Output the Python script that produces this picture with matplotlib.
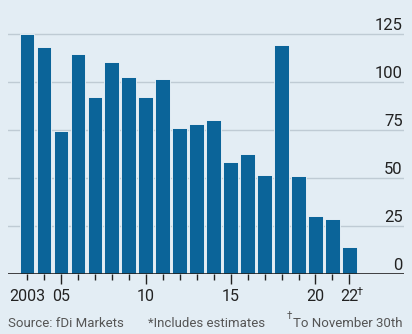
import matplotlib.pyplot as plt
import numpy as np

plt.rcParams['font.family'] = ['Roboto', 'DejaVu Sans']

years = list(range(2003, 2023))
values = [125, 118.5, 74.5, 114.5, 92, 110.5, 102.5, 92.5, 101.5, 76,
          78.3, 80.5, 58.5, 62.5, 51.5, 119.5, 51, 30, 28.6, 14.2]
y_ticks = [0, 25, 50, 75, 100, 125]
x_labels = {2003: '2003', 2005: '05', 2010: '10', 2015: '15', 2020: '20', 2022: '22'}

bg = '#e3edf4'
blue = '#0b6499'
ink = '#222222'
grey = '#555555'

fig = plt.figure(figsize=(4.12, 3.34), dpi=100, facecolor=bg)
ax = fig.add_axes([0.02, 0.1796, 0.96, 0.790], facecolor=bg)

ax.bar(years, values, width=0.86, color=blue, edgecolor='#f4f8fb', linewidth=0.6, zorder=3)

ax.set_ylim(0, 137.5)
ax.set_xlim(2001.9, 2025.2)
for v in y_ticks[1:]:
    ax.axhline(v, color='#bfcbd4', linewidth=1.0, zorder=1)
for v in y_ticks:
    ax.text(2025.15, v + 2.3, str(v), ha='right', va='baseline', fontsize=12, color=ink)
ax.axhline(0, color=ink, linewidth=1.2, zorder=4)

for s in ax.spines.values():
    s.set_visible(False)
ax.set_yticks([])

major = [2005, 2010, 2015, 2020, 2022]
ax.set_xticks(major)
ax.set_xticks([y for y in years if y not in major], minor=True)
ax.set_xticklabels([])
ax.tick_params(axis='x', which='major', length=7, width=1, color=ink)
ax.tick_params(axis='x', which='minor', length=4, width=1, color=ink)

for yr, lab in x_labels.items():
    ax.text(yr, -8, lab, ha='center', va='top', fontsize=11.5, color=ink)
ax.annotate('\u2020', xy=(2022, -8), xytext=(5.5, 1.5), textcoords='offset points',
            ha='left', va='top', fontsize=8, color=ink, annotation_clip=False)

fig.text(0.02, 0.022, 'Source: fDi Markets', fontsize=9.5, color=grey, ha='left')
fig.text(0.36, 0.022, '*Includes estimates', fontsize=9.5, color=grey, ha='left')
note = fig.text(0.978, 0.022, 'To November 30th', fontsize=9.5, color=grey, ha='right')

# put the dagger just before the footnote text
fig.canvas.draw()
bb = note.get_window_extent()
fig.text((bb.x0 - 1) / fig.bbox.width, 0.045, '\u2020', fontsize=7, color=grey, ha='right')

fig.savefig('out.png', dpi=100, facecolor=bg)
